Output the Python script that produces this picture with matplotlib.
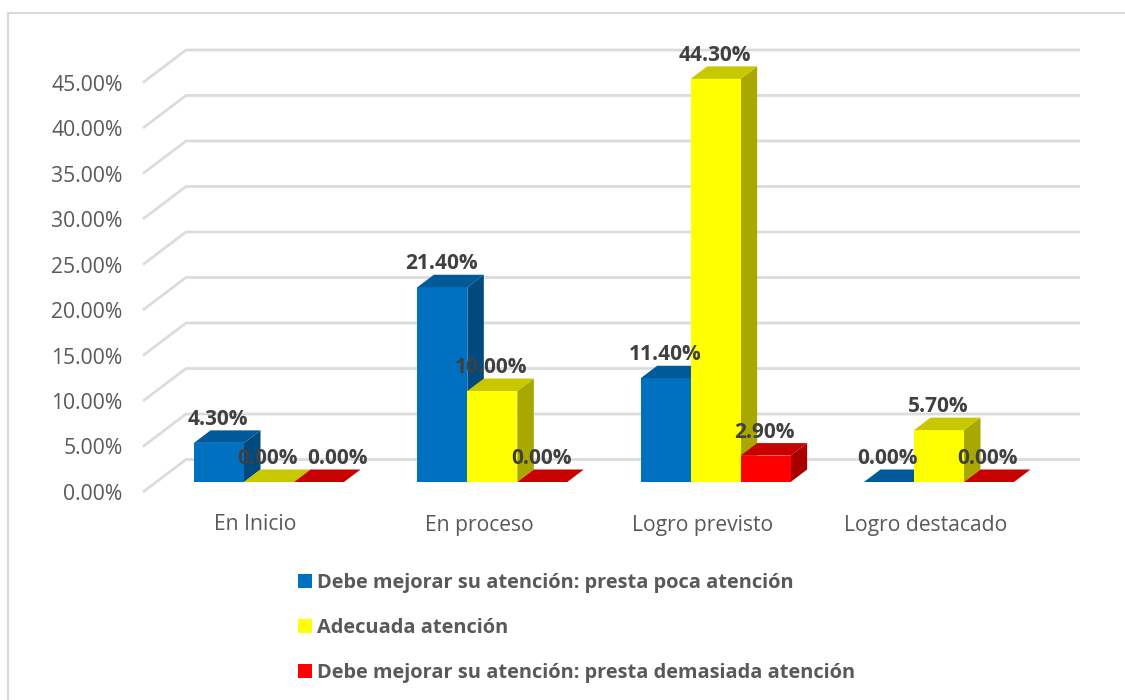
import matplotlib
matplotlib.use('Agg')
import matplotlib.pyplot as plt
from matplotlib.patches import Polygon, Rectangle

categories = ['En Inicio', 'En proceso', 'Logro previsto', 'Logro destacado']
poca = [4.3, 21.4, 11.4, 0.0]
adecuada = [0.0, 10.0, 44.3, 5.7]
demasiada = [0.0, 0.0, 2.9, 0.0]
y_ticks = [0, 5, 10, 15, 20, 25, 30, 35, 40, 45]
series_names = ['Debe mejorar su atención: presta poca atención',
                'Adecuada atención',
                'Debe mejorar su atención: presta demasiada atención']

# pixel scale of the picture: 223.33 px per category, 9.1 px per percent
PX_X = 223.33
PX_Y = 9.1
W, H = 1125, 700

fig = plt.figure(figsize=(W / 100, H / 100), dpi=100)
ax = fig.add_axes([0, 0, 1, 1])
ax.set_xlim(-269 / PX_X, (W - 269) / PX_X)
ax.set_ylim((482 - H) / PX_Y, 482 / PX_Y)
ax.axis('off')


def px(v):
    return v / PX_X


def py(v):
    return v / PX_Y


def draw_bar(xc, val, front, top, side):
    x0 = xc - px(25)
    x1 = xc + px(25)
    dx = px(16.5)
    dy = py(12.5)
    if val > 0:
        ax.add_patch(Polygon([(x1, 0), (x1 + dx, dy), (x1 + dx, val + dy), (x1, val)],
                             facecolor=side, edgecolor='none', zorder=3))
        ax.add_patch(Rectangle((x0, 0), x1 - x0, val, facecolor=front,
                               edgecolor='none', zorder=3))
    ax.add_patch(Polygon([(x0, val), (x1, val), (x1 + dx, val + dy), (x0 + dx, val + dy)],
                         facecolor=top, edgecolor='none', zorder=3))


# back wall lines with the slanted part on the left
for t in y_ticks:
    xs = [px(143 - 269), px(186 - 269), px(1080 - 269)]
    ys = [t + py(-10), t + py(22.5), t + py(22.5)]
    ax.plot(xs, ys, color='#dcdcdc', lw=2, zorder=1, solid_capstyle='butt')
    ax.text(px(122.5 - 269), t + py(-12.5), '%.2f%%' % t, ha='right', va='center',
            fontsize=15.2, color='#595959', family='Open Sans')

series = [
    (poca, -px(50), '#0070c0', '#005a9a', '#004a80'),
    (adecuada, 0, '#ffff00', '#c8c800', '#a8a800'),
    (demasiada, px(50), '#ff0000', '#c80000', '#a80000'),
]
for vals, off, front, top, side in series:
    for i, v in enumerate(vals):
        draw_bar(i + off, v, front, top, side)

# data labels go over the bars, the first red one was moved aside in the original
for s, (vals, off, front, top, side) in enumerate(series):
    for i, v in enumerate(vals):
        nudge = px(19) if (s == 2 and i == 0) else 0
        ax.text(i + off + px(-1) + nudge, v + py(23.5), '%.2f%%' % v, ha='center', va='center',
                fontsize=15, fontweight='bold', color='#404040', family='Open Sans', zorder=5)

for i, c in enumerate(categories):
    ax.text(i + px(-13.5), py(-43), c, ha='center', va='center', fontsize=15.2,
            color='#595959', family='Open Sans')

# legend by hand, stacked lines as in the original
for name, color, ypx in zip(series_names, ['#0070c0', '#ffff00', '#ff0000'], [581, 626, 671]):
    ax.add_patch(Rectangle((px(298 - 269), py(482 - ypx - 7)), px(14), py(14),
                           facecolor=color, edgecolor='none'))
    ax.text(px(317 - 269), py(482 - ypx - 2), name, ha='left', va='center', fontsize=14.37,
            fontweight='bold', color='#595959', family='Open Sans')

# frame around the chart
fig.add_artist(Rectangle((8 / W, -0.01), 1.1, 1 - 13 / H + 0.01, transform=fig.transFigure,
                         facecolor='none', edgecolor='#d9d9d9', lw=1.5))

fig.savefig('out.png', dpi=100)
